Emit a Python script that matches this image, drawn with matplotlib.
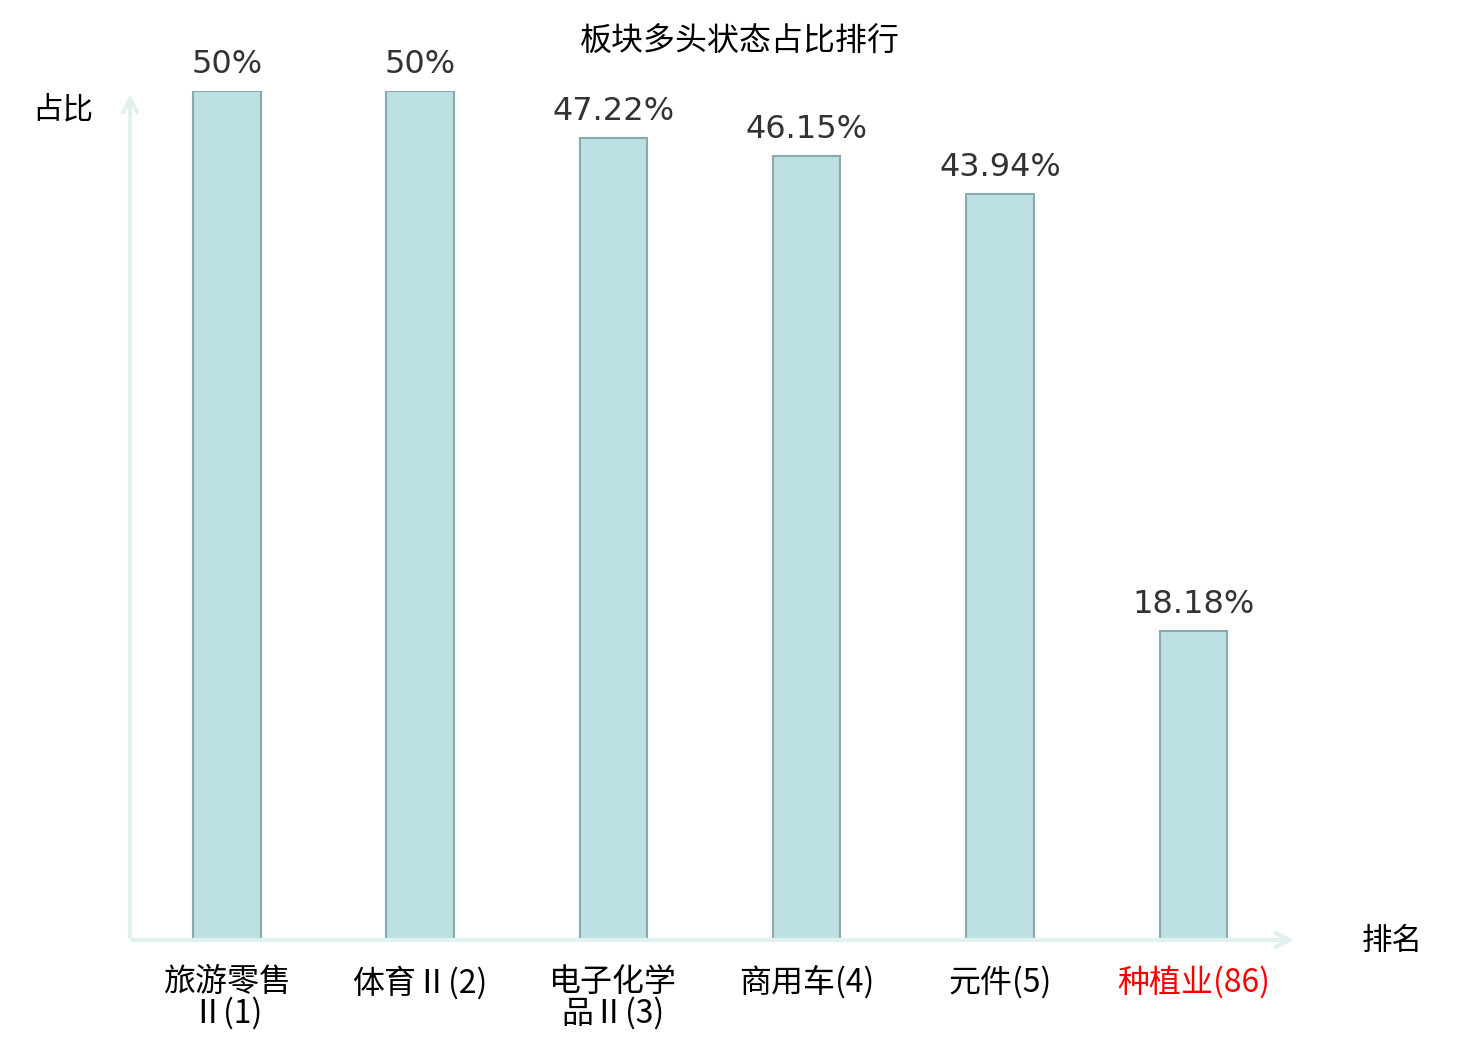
import matplotlib
matplotlib.use("Agg")
import matplotlib.pyplot as plt

plt.rcParams['font.family'] = ['Noto Sans CJK SC', 'DejaVu Sans']

# data
categories = ["旅游零售\nⅡ(1)", "体育Ⅱ(2)", "电子化学\n品Ⅱ(3)", "商用车(4)", "元件(5)", "种植业(86)"]
values = [50, 50, 47.22, 46.15, 43.94, 18.18]
value_labels = ["50%", "50%", "47.22%", "46.15%", "43.94%", "18.18%"]
highlight = [False, False, False, False, False, True]

fig = plt.figure(figsize=(14.8, 10.4), dpi=100)
ax = fig.add_axes([130 / 1480, 1 - 940 / 1040, 1160 / 1480, 849 / 1040])

x = list(range(len(categories)))
ax.bar(x, values, width=0.35, color="#bce0e3", edgecolor="#8aa9ab", linewidth=1.5, zorder=3)

for xi, v, lab in zip(x, values, value_labels):
    ax.annotate(lab, (xi, v), xytext=(0, 8), textcoords="offset points",
                ha="center", va="bottom", fontsize=23, color="#333333",
                family="DejaVu Sans")

ax.set_xlim(-0.5, 5.5)
ax.set_ylim(0, 50)
for s in ax.spines.values():
    s.set_visible(False)
ax.set_yticks([])
ax.set_xticks([])

# category labels
for xi, lab, hl in zip(x, categories, highlight):
    ax.text(xi, -0.031, lab, transform=ax.get_xaxis_transform(), ha="center", va="top",
            fontsize=23, linespacing=0.95, fontweight="light",
            color="red" if hl else "black")

# axis arrows
axis_col = "#dff2f0"
ax.annotate("", xy=(1.006, 0), xytext=(0, 0), xycoords="axes fraction",
            arrowprops=dict(arrowstyle="->,head_length=1.0,head_width=0.5", color=axis_col, lw=3),
            annotation_clip=False)
ax.annotate("", xy=(0, 1.0), xytext=(0, 0), xycoords="axes fraction",
            arrowprops=dict(arrowstyle="->,head_length=1.0,head_width=0.5", color=axis_col, lw=3),
            annotation_clip=False)

fig.text(1392 / 1480, 1 - 941 / 1040, "排名", ha="center", va="center", fontsize=22)
fig.text(63 / 1480, 1 - 110 / 1040, "占比", ha="center", va="center", fontsize=22)
fig.text(740 / 1480, 1 - 42 / 1040, "板块多头状态占比排行", ha="center", va="center", fontsize=23)

fig.savefig("out.png", dpi=100)
